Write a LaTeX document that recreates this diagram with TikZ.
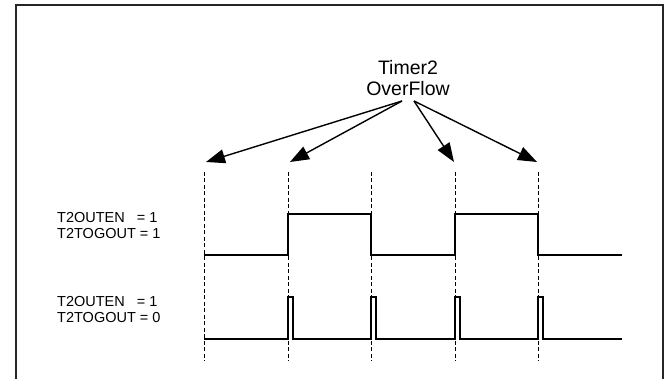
\documentclass[tikz,border=0pt]{standalone}
\usepackage{fontspec}
\setmainfont{Liberation Sans}
\usetikzlibrary{arrows.meta}
\begin{document}
\begin{tikzpicture}[x=1pt,y=-1pt,
  frame/.style={draw=black!85,line width=1.8pt},
  sig/.style={draw=black,line width=1.5pt},
  grid/.style={draw=black,line width=0.9pt,dash pattern=on 4pt off 2.5pt},
  ptr/.style={draw=black,line width=1.4pt,-{Triangle[length=19pt,width=14pt]}},
  title/.style={font=\fontsize{19.5}{21}\selectfont,align=center,inner sep=0pt},
  lbl/.style={font=\fontsize{14.5}{16}\selectfont,align=left,inner sep=0pt,anchor=west}]
\useasboundingbox (0,0) rectangle (667,379);
% frame
\coordinate (fbl) at (16,379);
\coordinate (ftl) at (16,5);
\coordinate (ftr) at (663,5);
\coordinate (fbr) at (663,379);
\draw[frame] (fbl) -- (ftl) -- (ftr) -- (fbr);
% title
\node[title] (t) at (408,78) {Timer2\\OverFlow};
\coordinate (sl) at (402,101);
\coordinate (sr) at (414,101);
\coordinate (a1) at (206,162);
\coordinate (a2) at (290,162);
\coordinate (a3) at (454,162);
\coordinate (a4) at (537,162);
\draw[ptr] (sl) -- (a1);
\draw[ptr] (sl) -- (a2);
\draw[ptr] (sr) -- (a3);
\draw[ptr] (sr) -- (a4);
% dashed guides
\foreach \i/\x in {1/204,2/288,3/371,4/455,5/538}{
  \coordinate (g\i t) at (\x,172);
  \coordinate (g\i b) at (\x,361);
  \draw[grid] (g\i t) -- (g\i b);
}
% labels
\node[lbl] (l1) at (57,226) {T2OUTEN\ \ \ = 1\\T2TOGOUT = 1};
\node[lbl] (l2) at (57,310) {T2OUTEN\ \ \ = 1\\T2TOGOUT = 0};
% waveform 1
\draw[sig] (204,255) -- (288,255) -- (288,214) -- (371,214) -- (371,255)
  -- (455,255) -- (455,214) -- (538,214) -- (538,255) -- (622,255);
% waveform 2
\draw[sig] (204,339)
  -- (288,339) -- (288,297) -- (293,297) -- (293,339)
  -- (371,339) -- (371,297) -- (376,297) -- (376,339)
  -- (455,339) -- (455,297) -- (460,297) -- (460,339)
  -- (538,339) -- (538,297) -- (543,297) -- (543,339)
  -- (622,339);
\end{tikzpicture}
\end{document}
